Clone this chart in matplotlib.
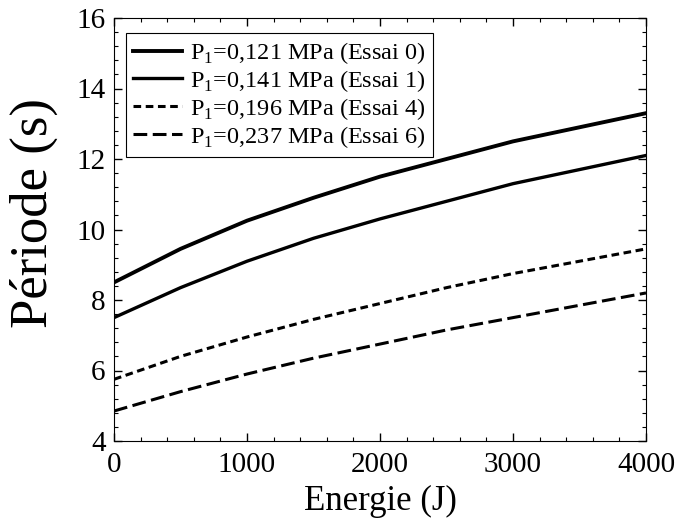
import numpy as np
import matplotlib
matplotlib.use("Agg")
import matplotlib.pyplot as plt
from matplotlib.ticker import MultipleLocator

plt.rcParams['font.family'] = 'Liberation Serif'
plt.rcParams['mathtext.fontset'] = 'custom'
plt.rcParams['mathtext.rm'] = 'Liberation Serif'

energie = [0, 500, 1000, 1500, 2000, 2500, 3000, 3500, 4000]
essai0 = [8.5, 9.45, 10.25, 10.9, 11.5, 12.0, 12.5, 12.9, 13.3]
essai1 = [7.5, 8.35, 9.1, 9.75, 10.3, 10.8, 11.3, 11.7, 12.1]
essai4 = [5.75, 6.4, 6.95, 7.45, 7.9, 8.35, 8.75, 9.1, 9.45]
essai6 = [4.85, 5.4, 5.9, 6.35, 6.75, 7.15, 7.5, 7.85, 8.2]

labels = [r'P$_\mathregular{1}$=0,121 MPa (Essai 0)',
          r'P$_\mathregular{1}$=0,141 MPa (Essai 1)',
          r'P$_\mathregular{1}$=0,196 MPa (Essai 4)',
          r'P$_\mathregular{1}$=0,237 MPa (Essai 6)']

fig = plt.figure(figsize=(6.8, 5.24), dpi=100)
ax = fig.add_axes([114/680, 1 - 441/524, (646 - 114)/680, (441 - 18)/524])

ax.plot(energie, essai0, color='black', lw=2.8, ls='-', label=labels[0])
ax.plot(energie, essai1, color='black', lw=2.4, ls='-', label=labels[1])
ax.plot(energie, essai4, color='black', lw=2.2, ls=(0, (2.5, 1.5)), label=labels[2])
ax.plot(energie, essai6, color='black', lw=2.2, ls=(0, (4.5, 1.8)), label=labels[3])

ax.set_xlim(0, 4000)
ax.set_ylim(4, 16)
ax.xaxis.set_major_locator(MultipleLocator(1000))
ax.xaxis.set_minor_locator(MultipleLocator(200))
ax.yaxis.set_major_locator(MultipleLocator(2))
ax.yaxis.set_minor_locator(MultipleLocator(0.4))
ax.tick_params(which='both', direction='in', top=True, right=True, labelsize=21)
ax.tick_params(which='major', length=6, width=1)
ax.tick_params(which='minor', length=3, width=0.8)
ax.tick_params(axis='x', pad=8)
ax.tick_params(axis='y', pad=6)

ax.set_xlabel('Energie (J)', fontsize=25, labelpad=5)
ax.set_ylabel('Période (s)', fontsize=38)
ax.yaxis.set_label_coords(-0.105, 0.54)

leg = ax.legend(loc='upper left', bbox_to_anchor=(0.022, 0.965), fontsize=17.5,
                frameon=True, fancybox=False, edgecolor='black', framealpha=1,
                handlelength=2.0, labelspacing=0.08, borderpad=0.3, handletextpad=0.35,
                borderaxespad=0)
leg.get_frame().set_linewidth(0.8)

fig.savefig('out.png', dpi=100)
